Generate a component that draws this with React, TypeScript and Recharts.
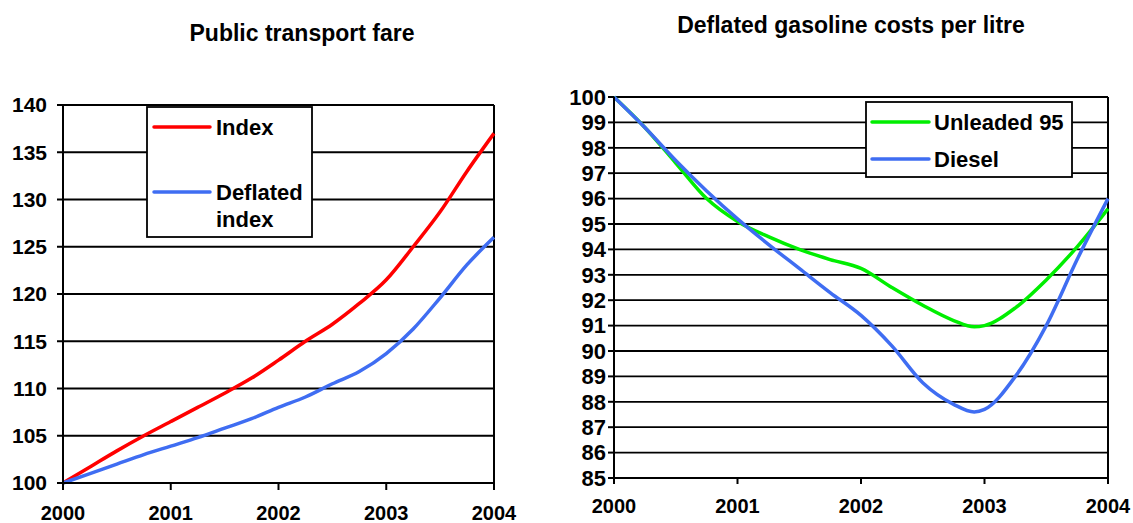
import React from 'react';
import { LineChart, Line, XAxis, YAxis, CartesianGrid, ReferenceLine } from 'recharts';

const YEARS = ['2000', '2001', '2002', '2003', '2004'];
const YEAR_TICKS = [0, 12, 24, 36, 48];

const FARE_MONTHS = [0, 3, 6, 9, 12, 15, 18, 21, 24, 27, 30, 33, 36, 39, 42, 45, 48];
const FARE_INDEX = [100, 101.7, 103.4, 105.0, 106.5, 108.0, 109.5, 111.1, 113.0, 115.0, 116.8, 119.0, 121.5, 125.0, 128.7, 133.0, 137.0];
const FARE_DEFLATED = [100, 101.0, 102.0, 103.0, 103.9, 104.8, 105.8, 106.8, 108.0, 109.1, 110.5, 111.8, 113.7, 116.3, 119.6, 123.1, 126.0];
const FARE_TICKS = [100, 105, 110, 115, 120, 125, 130, 135, 140];

const FUEL_MONTHS = [0, 3, 6, 9, 12, 15, 18, 21, 24, 27, 30, 33, 35, 36, 39, 42, 45, 48];
const UNLEADED = [100, 98.8, 97.4, 96.0, 95.1, 94.5, 94.0, 93.6, 93.25, 92.5, 91.8, 91.2, 90.95, 91.0, 91.7, 92.8, 94.1, 95.6];
const DIESEL = [100, 98.8, 97.5, 96.3, 95.2, 94.2, 93.25, 92.3, 91.4, 90.2, 88.75, 87.9, 87.6, 87.7, 89.0, 91.0, 93.6, 96.0];
const FUEL_TICKS = [85, 86, 87, 88, 89, 90, 91, 92, 93, 94, 95, 96, 97, 98, 99, 100];

const FARE_TITLE = 'Public transport fare';
const FUEL_TITLE = 'Deflated gasoline costs per litre';
const FARE_SERIES = [
  { key: 'index', name: ['Index'], color: '#FF0000' },
  { key: 'deflated', name: ['Deflated', 'index'], color: '#3F6DF2' },
];
const FUEL_SERIES = [
  { key: 'unleaded', name: ['Unleaded 95'], color: '#00EE00' },
  { key: 'diesel', name: ['Diesel'], color: '#3F6DF2' },
];

const fareData = FARE_MONTHS.map((m, i) => ({ m, index: FARE_INDEX[i], deflated: FARE_DEFLATED[i] }));
const fuelData = FUEL_MONTHS.map((m, i) => ({ m, unleaded: UNLEADED[i], diesel: DIESEL[i] }));

const FONT = '"Liberation Sans", Arial, sans-serif';
const yearFmt = (v: number) => YEARS[YEAR_TICKS.indexOf(v)] ?? '';

export default function App() {
  const tickStyle = { fill: '#000', fontSize: 21, fontWeight: 700, fontFamily: FONT };
  return (
    <div style={{ position: 'absolute', left: 0, top: 0, width: 1133, height: 523, background: '#fff' }}>
      <div style={{ position: 'absolute', left: 0, top: 0 }}>
        <LineChart width={560} height={523} data={fareData} margin={{ top: 105, right: 66, bottom: 0, left: 0 }}>
          <CartesianGrid vertical={false} stroke="#000" strokeWidth={1.8} />
          <XAxis dataKey="m" type="number" domain={[0, 48]} ticks={YEAR_TICKS} tickFormatter={yearFmt}
            height={40} tickSize={7} tickMargin={16} stroke="#000" strokeWidth={2}
            tick={{ ...tickStyle, fontSize: 20 }} tickLine={{ stroke: '#000', strokeWidth: 2 }} />
          <YAxis domain={[100, 140]} ticks={FARE_TICKS} width={63} tickSize={6} tickMargin={10}
            stroke="#000" strokeWidth={2} tick={tickStyle} tickLine={{ stroke: '#000', strokeWidth: 2 }} interval={0} />
          <ReferenceLine x={48} stroke="#000" strokeWidth={2} />
          {FARE_SERIES.map(s => (
            <Line key={s.key} dataKey={s.key} type="monotone" stroke={s.color} strokeWidth={3.5} dot={false} isAnimationActive={false} />
          ))}
        </LineChart>
      </div>
      <div style={{ position: 'absolute', left: 560, top: 0 }}>
        <LineChart width={573} height={523} data={fuelData} margin={{ top: 97, right: 25, bottom: 0, left: 0 }}>
          <CartesianGrid vertical={false} stroke="#000" strokeWidth={1.8} />
          <XAxis dataKey="m" type="number" domain={[0, 48]} ticks={YEAR_TICKS} tickFormatter={yearFmt}
            height={45} tickSize={6} tickMargin={15} stroke="#000" strokeWidth={2}
            tick={{ ...tickStyle, fontSize: 20 }} tickLine={{ stroke: '#000', strokeWidth: 2 }} />
          <YAxis domain={[85, 100]} ticks={FUEL_TICKS} width={54} tickSize={6} tickMargin={2}
            stroke="#000" strokeWidth={2} tick={{ ...tickStyle, fontSize: 22 }} tickLine={{ stroke: '#000', strokeWidth: 2 }} interval={0} />
          <ReferenceLine x={48} stroke="#000" strokeWidth={2} />
          {FUEL_SERIES.map(s => (
            <Line key={s.key} dataKey={s.key} type="monotone" stroke={s.color} strokeWidth={3.5} dot={false} isAnimationActive={false} />
          ))}
        </LineChart>
      </div>
      <svg width={1133} height={523} style={{ position: 'absolute', left: 0, top: 0 }} fontFamily={FONT} fontWeight={700}>
        <text x={302} y={41} textAnchor="middle" fontSize={23} fill="#000">{FARE_TITLE}</text>
        <text x={851} y={33} textAnchor="middle" fontSize={23} fill="#000">{FUEL_TITLE}</text>

        <rect x={147} y={107} width={165} height={130} fill="#fff" stroke="#000" strokeWidth={1.8} />
        <line x1={154} x2={210} y1={127} y2={127} stroke={FARE_SERIES[0].color} strokeWidth={3.5} strokeLinecap="round" />
        <text x={216} y={127} dominantBaseline="central" fontSize={22} fill="#000">{FARE_SERIES[0].name[0]}</text>
        <line x1={154} x2={210} y1={192} y2={192} stroke={FARE_SERIES[1].color} strokeWidth={3.5} strokeLinecap="round" />
        <text x={216} y={192} dominantBaseline="central" fontSize={22} fill="#000">{FARE_SERIES[1].name[0]}</text>
        <text x={216} y={219} dominantBaseline="central" fontSize={22} fill="#000">{FARE_SERIES[1].name[1]}</text>

        <rect x={866} y={102} width={206} height={75} fill="#fff" stroke="#000" strokeWidth={1.8} />
        <line x1={872} x2={929} y1={122} y2={122} stroke={FUEL_SERIES[0].color} strokeWidth={3.5} strokeLinecap="round" />
        <text x={934} y={122} dominantBaseline="central" fontSize={22} fill="#000">{FUEL_SERIES[0].name[0]}</text>
        <line x1={872} x2={929} y1={159} y2={159} stroke={FUEL_SERIES[1].color} strokeWidth={3.5} strokeLinecap="round" />
        <text x={934} y={159} dominantBaseline="central" fontSize={22} fill="#000">{FUEL_SERIES[1].name[0]}</text>
      </svg>
    </div>
  );
}
